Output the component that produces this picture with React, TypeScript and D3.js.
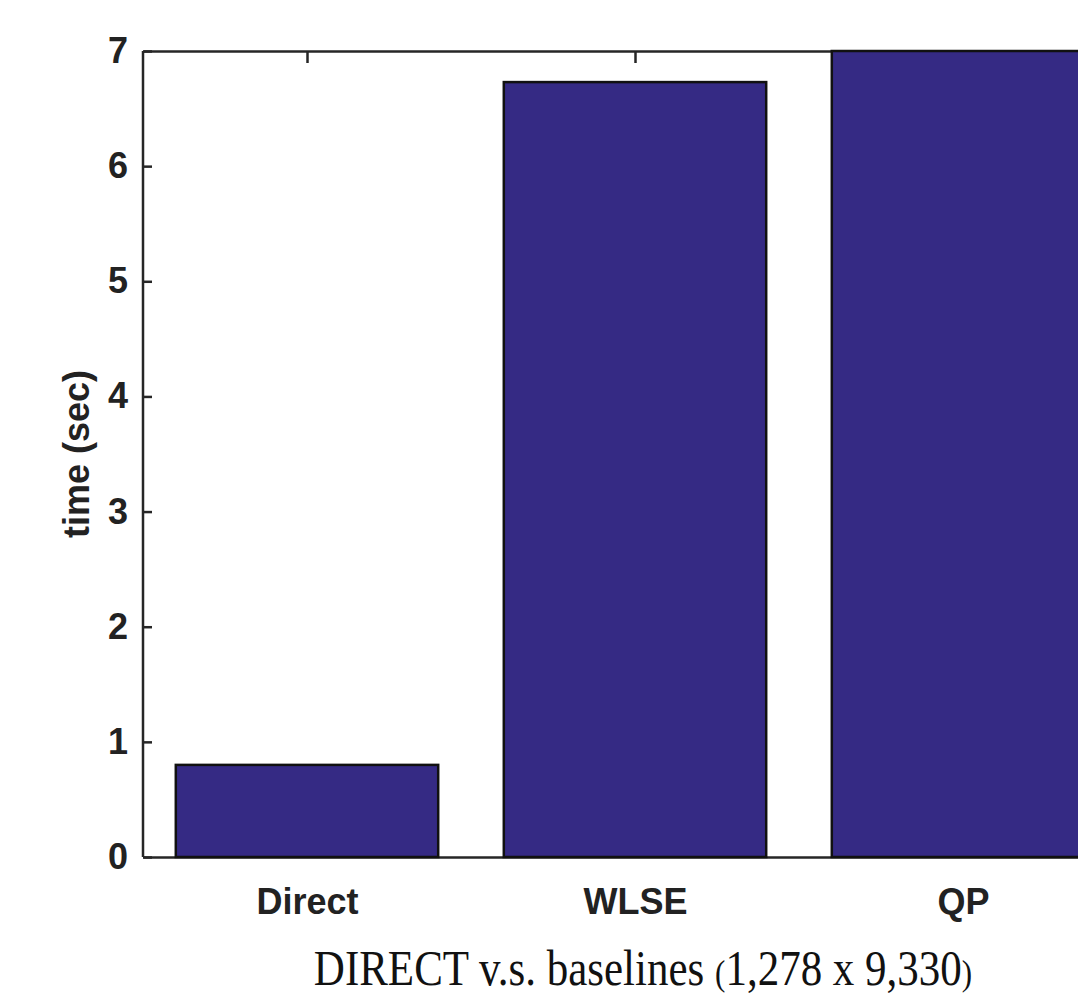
import React, { useEffect, useRef } from 'react';
import * as d3 from 'd3';

// values
const methods = ['Direct', 'WLSE', 'QP'];
const times = [0.8, 6.73, 7.0];
const yTicks = [0, 1, 2, 3, 4, 5, 6, 7];

const width = 1078;
const height = 995;
const left = 143;
const top = 51;
const bottom = 857;
const step = 328;

function App() {
    const svgRef = useRef<SVGSVGElement>(null);

    useEffect(() => {
        const svg = d3.select(svgRef.current);
        svg.selectAll('*').remove();

        // matlab style: categories at 1..n, xlim [0.5, n+0.5]
        const x = d3.scaleLinear()
            .domain([0.5, methods.length + 0.5])
            .range([left, left + step * methods.length]);
        const y = d3.scaleLinear()
            .domain([0, 7])
            .range([bottom, top]);

        const font = "'Liberation Sans', Arial, sans-serif";
        const axisColor = '#262626';

        // ticks pointing in
        const yAxis = d3.axisLeft(y)
            .tickValues(yTicks)
            .tickFormat(d3.format('d'))
            .tickSizeInner(-9)
            .tickSizeOuter(0)
            .tickPadding(15);
        const gy = svg.append('g')
            .attr('transform', `translate(${left},0)`)
            .call(yAxis);

        const xTop = d3.axisTop(x)
            .tickValues(methods.map((d, i) => i + 1))
            .tickFormat(() => '')
            .tickSizeInner(-12)
            .tickSizeOuter(0);
        const gt = svg.append('g')
            .attr('transform', `translate(0,${top})`)
            .call(xTop);

        const xBottom = d3.axisBottom(x)
            .tickValues(methods.map((d, i) => i + 1))
            .tickFormat((d) => methods[Number(d) - 1])
            .tickSizeInner(-12)
            .tickSizeOuter(0)
            .tickPadding(31);
        const gb = svg.append('g')
            .attr('transform', `translate(0,${bottom})`)
            .call(xBottom);

        [gy, gt, gb].forEach((g) => {
            g.selectAll('path, line')
                .attr('stroke', axisColor)
                .attr('stroke-width', 2.5);
            g.selectAll('text')
                .attr('fill', '#222')
                .attr('font-family', font)
                .attr('font-weight', 'bold')
                .attr('font-size', 36);
        });
        gy.select('.domain').attr('d', `M0,${bottom}V${top}`);

        // bars over the axes (hides bottom ticks like the original)
        const bw = (x(1.4) as number) - (x(0.6) as number);
        svg.append('g')
            .selectAll('rect')
            .data(times)
            .join('rect')
            .attr('x', (d, i) => x(i + 0.6))
            .attr('y', (d) => y(Math.min(d, 7)))
            .attr('width', bw)
            .attr('height', (d) => y(0) - y(Math.min(d, 7)))
            .attr('fill', '#352a84')
            .attr('stroke', '#111')
            .attr('stroke-width', 2.5);

        svg.append('text')
            .attr('transform', `translate(76,${(top + bottom) / 2}) rotate(-90)`)
            .attr('text-anchor', 'middle')
            .attr('dominant-baseline', 'central')
            .attr('fill', '#222')
            .attr('font-family', font)
            .attr('font-weight', 'bold')
            .attr('font-size', 36)
            .text('time (sec)');
    }, []);

    return (
        <div style={{ position: 'absolute', left: 0, top: 0, width, height, overflow: 'hidden', background: '#fff' }}>
            <svg ref={svgRef} width={width} height={height} style={{ display: 'block' }} />
            <svg width={width} height={height} style={{ position: 'absolute', left: 0, top: 0 }}>
                <text transform="translate(643,985) scale(0.86,1)" textAnchor="middle"
                    fontFamily="'Liberation Serif', 'Times New Roman', serif" fontSize={50} fill="#111">
                    DIRECT v.s. baselines <tspan fontSize={36}>(</tspan>1,278 x 9,330<tspan fontSize={36}>)</tspan>
                </text>
            </svg>
        </div>
    );
}

export default App;
